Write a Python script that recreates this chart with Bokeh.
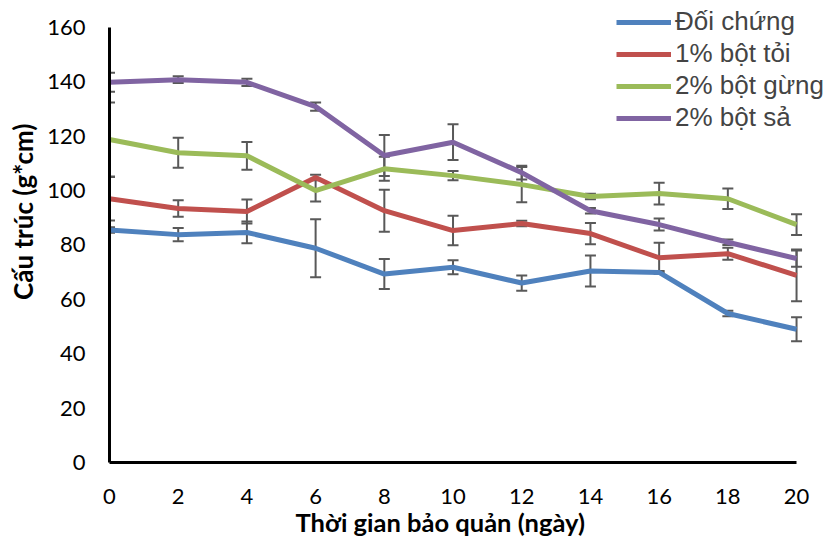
from bokeh.plotting import figure
from bokeh.models import (ColumnDataSource, Whisker, TeeHead, Legend, LegendItem,
                          Range1d, FixedTicker, Title)
from bokeh.embed import file_html
from bokeh.resources import INLINE

days = [0, 2, 4, 6, 8, 10, 12, 14, 16, 18, 20]
series_names = ["Đối chứng", "1% bột tỏi", "2% bột gừng", "2% bột sả"]
doi_chung = [85.5, 83.8, 84.6, 78.8, 69.3, 71.8, 66.0, 70.4, 69.9, 54.8, 49.0]
doi_chung_err = [1.0, 2.4, 4.0, 10.7, 5.5, 2.6, 2.8, 5.7, 0.5, 1.0, 4.4]
bot_toi = [97.0, 93.4, 92.3, 104.8, 92.6, 85.3, 87.9, 84.2, 75.3, 76.8, 68.8]
bot_toi_err = [8.0, 3.0, 4.4, 1.0, 7.7, 5.4, 1.0, 3.9, 5.5, 2.2, 9.5]
bot_gung = [118.8, 113.9, 112.8, 100.0, 108.0, 105.5, 102.2, 97.8, 98.9, 97.0, 87.5]
bot_gung_err = [13.6, 5.5, 5.1, 4.0, 4.4, 1.7, 6.5, 1.0, 4.0, 3.8, 3.8]
bot_sa = [139.8, 140.8, 139.8, 130.9, 112.9, 117.8, 106.6, 92.6, 87.5, 81.0, 75.0]
bot_sa_err = [3.5, 1.2, 1.3, 1.5, 7.5, 6.6, 2.5, 1.0, 2.2, 1.0, 3.0]
y_ticks = [0, 20, 40, 60, 80, 100, 120, 140, 160]
x_ticks = [0, 2, 4, 6, 8, 10, 12, 14, 16, 18, 20]
x_label = "Thời gian bảo quản (ngày)"
y_label = "Cấu trúc (g*cm)"

colors = ["#4F81BD", "#C0504D", "#9BBB59", "#8064A2"]
values = [doi_chung, bot_toi, bot_gung, bot_sa]
errors = [doi_chung_err, bot_toi_err, bot_gung_err, bot_sa_err]

# frame extends to the top/right edges so the legend may overlap there;
# axis lines are bounded to the data extent
p = figure(width=828, height=540, output_backend="svg", toolbar_location=None,
           x_range=Range1d(0, 20.93), y_range=Range1d(0, 169.9),
           min_border_left=109, min_border_right=0, min_border_top=0, min_border_bottom=78)
p.outline_line_color = None
p.grid.visible = False

items = []
for name, vals, col in zip(series_names, values, colors):
    r = p.line(days, vals, line_color=col, line_width=5)
    items.append(LegendItem(label=name, renderers=[r]))

for vals, errs in zip(values, errors):
    src = ColumnDataSource(dict(x=days,
                                lower=[v - e for v, e in zip(vals, errs)],
                                upper=[v + e for v, e in zip(vals, errs)]))
    w = Whisker(base="x", lower="lower", upper="upper", source=src,
                line_color="#595959", line_width=2,
                upper_head=TeeHead(size=11, line_color="#595959", line_width=2),
                lower_head=TeeHead(size=11, line_color="#595959", line_width=2))
    p.add_layout(w)

for ax in (p.xaxis, p.yaxis):
    ax.axis_line_color = "black"
    ax.axis_line_width = 3
    ax.major_tick_line_color = None
    ax.minor_tick_line_color = None
    ax.major_label_text_font = "Lato"
    ax.major_label_text_font_size = "22px"
    ax.major_label_text_color = "black"

p.xaxis.ticker = FixedTicker(ticks=x_ticks)
p.yaxis.ticker = FixedTicker(ticks=y_ticks)
p.xaxis.bounds = (0, 20)
p.yaxis.bounds = (0, 160)
p.xaxis.major_label_standoff = 20
p.yaxis.major_label_standoff = 18

xt = Title(text=x_label, align="left", offset=186, text_font="Lato",
           vertical_align="top",
           text_font_style="bold", text_font_size="25.5px", text_color="black",
           standoff=0)
p.add_layout(xt, "below")
yt = Title(text=y_label, align="right", offset=123, text_font="Lato",
           vertical_align="top",
           text_font_style="bold", text_font_size="26px", text_color="black",
           standoff=8)
p.add_layout(yt, "left")

legend = Legend(items=items, location=(507, 329), padding=0, margin=0,
                border_line_color=None, background_fill_alpha=0,
                label_text_font="Liberation Sans", label_text_font_size="26px",
                glyph_width=55, glyph_height=28, label_height=28, spacing=1,
                label_standoff=4)
p.add_layout(legend, "center")

open("out.html", "w").write(file_html(p, INLINE))
